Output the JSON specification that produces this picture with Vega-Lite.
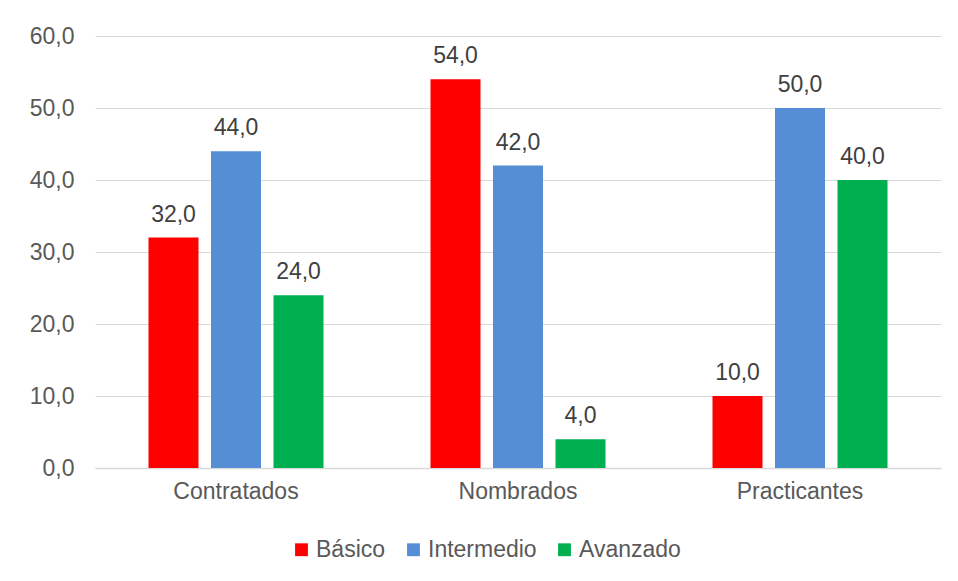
{
  "$schema": "https://vega.github.io/schema/vega-lite/v6.json",
  "autosize": {"type": "none"},
  "width": 846,
  "height": 432,
  "padding": {"left": 95, "top": 36, "right": 17, "bottom": 113},
  "background": "white",
  "data": {
    "values": [
      {"grupo": "Contratados", "nivel": "Básico", "valor": 32},
      {"grupo": "Contratados", "nivel": "Intermedio", "valor": 44},
      {"grupo": "Contratados", "nivel": "Avanzado", "valor": 24},
      {"grupo": "Nombrados", "nivel": "Básico", "valor": 54},
      {"grupo": "Nombrados", "nivel": "Intermedio", "valor": 42},
      {"grupo": "Nombrados", "nivel": "Avanzado", "valor": 4},
      {"grupo": "Practicantes", "nivel": "Básico", "valor": 10},
      {"grupo": "Practicantes", "nivel": "Intermedio", "valor": 50},
      {"grupo": "Practicantes", "nivel": "Avanzado", "valor": 40}
    ]
  },
  "encoding": {
    "x": {
      "field": "grupo", "type": "nominal",
      "sort": ["Contratados", "Nombrados", "Practicantes"],
      "scale": {"paddingInner": 0, "paddingOuter": 0},
      "axis": {"title": null, "labelAngle": 0, "ticks": false, "domain": true, "domainColor": "#D9D9D9", "domainWidth": 1.5, "labelPadding": 12, "labelFontSize": 23, "labelColor": "#595959", "labelFont": "Liberation Sans"}
    },
    "xOffset": {
      "field": "nivel", "type": "nominal",
      "sort": ["Básico", "Intermedio", "Avanzado"],
      "scale": {"paddingInner": 0.2, "paddingOuter": 0.856}
    },
    "y": {
      "field": "valor", "type": "quantitative",
      "scale": {"domain": [0, 60], "nice": false},
      "axis": {"title": null, "values": [0, 10, 20, 30, 40, 50, 60], "format": ".1f", "domain": false, "ticks": false, "labelPadding": 21, "gridColor": "#D9D9D9", "gridWidth": 1.2, "labelFontSize": 23, "labelColor": "#595959", "labelFont": "Liberation Sans"}
    }
  },
  "layer": [
    {
      "mark": {"type": "bar"},
      "encoding": {
        "color": {
          "field": "nivel", "type": "nominal",
          "sort": ["Básico", "Intermedio", "Avanzado"],
          "scale": {"domain": ["Básico", "Intermedio", "Avanzado"], "range": ["#FF0000", "#558ED5", "#00B050"]},
          "legend": {
            "title": null, "orient": "none", "direction": "horizontal",
            "legendX": 195, "legendY": 502,
            "symbolType": "square", "symbolSize": 165, "symbolStrokeWidth": 0,
            "labelFontSize": 23, "labelColor": "#595959", "labelFont": "Liberation Sans",
            "labelOffset": 3, "columnPadding": 16, "padding": 0
          }
        }
      }
    },
    {
      "mark": {"type": "text", "baseline": "alphabetic", "dy": -16, "fontSize": 23, "font": "Liberation Sans", "color": "#404040"},
      "encoding": {
        "text": {"field": "valor", "type": "quantitative", "format": ".1f"}
      }
    }
  ],
  "config": {
    "locale": {"number": {"decimal": ",", "thousands": ".", "grouping": [3], "currency": ["", " €"]}},
    "view": {"stroke": null}
  }
}
